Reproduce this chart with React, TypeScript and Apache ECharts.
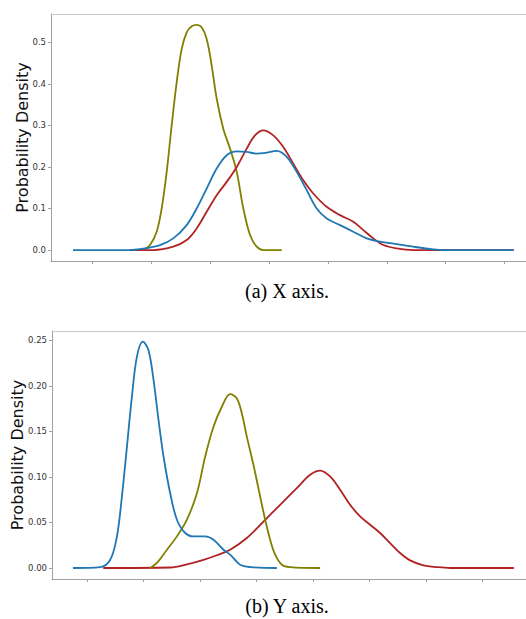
import React, { useEffect, useRef } from "react";
import * as echarts from "echarts";

// ---- (a) X axis ----
const topBlueX = [-0.328, 0.64, 0.81, 1.149, 1.375, 1.603, 1.772, 1.942, 2.112, 2.282, 2.452, 2.621, 2.791, 2.95, 3.131, 3.301, 3.47, 3.64, 3.81, 3.98, 4.206, 4.431, 4.659, 4.885, 5.168, 5.45, 5.79, 5.988, 7.154];
const topBlueY = [0, 0, 0.002, 0.012, 0.028, 0.06, 0.1, 0.148, 0.196, 0.228, 0.2376, 0.236, 0.232, 0.234, 0.2384, 0.224, 0.188, 0.144, 0.1, 0.076, 0.06, 0.044, 0.028, 0.02, 0.0144, 0.008, 0.0016, 0, 0];
const topRedX = [0.64, 1.036, 1.375, 1.603, 1.772, 1.942, 2.112, 2.282, 2.452, 2.621, 2.762, 2.903, 3.073, 3.242, 3.412, 3.582, 3.751, 3.979, 4.205, 4.431, 4.601, 4.77, 4.94, 5.168, 5.45, 7.154];
const topRedY = [0, 0, 0.008, 0.024, 0.052, 0.092, 0.132, 0.164, 0.2, 0.244, 0.276, 0.288, 0.276, 0.248, 0.208, 0.168, 0.136, 0.104, 0.084, 0.068, 0.048, 0.028, 0.012, 0.004, 0, 0];
const topOliveX = [0.866, 0.98, 1.093, 1.178, 1.263, 1.348, 1.433, 1.518, 1.603, 1.688, 1.772, 1.857, 1.942, 2.027, 2.112, 2.224, 2.338, 2.452, 2.564, 2.678, 2.791, 2.903, 3.216];
const topOliveY = [0, 0.012, 0.044, 0.1, 0.188, 0.3, 0.404, 0.484, 0.524, 0.5384, 0.5416, 0.536, 0.508, 0.444, 0.364, 0.292, 0.244, 0.188, 0.1, 0.036, 0.008, 0, 0];
const topYTicks = [0, 0.1, 0.2, 0.3, 0.4, 0.5];
const topXTicks = [0, 1, 2, 3, 4, 5, 6, 7];

// ---- (b) Y axis ----
const botBlueX = [-0.248, 0.235, 0.412, 0.531, 0.619, 0.708, 0.796, 0.885, 0.991, 1.09, 1.179, 1.267, 1.356, 1.474, 1.593, 1.74, 1.887, 2.094, 2.241, 2.418, 2.536, 2.713, 2.9, 3.363];
const botBlueY = [0, 0.001, 0.009, 0.0347, 0.0785, 0.133, 0.188, 0.232, 0.2485, 0.239, 0.2065, 0.1626, 0.1224, 0.082, 0.053, 0.0384, 0.0347, 0.0347, 0.031, 0.02, 0.0146, 0.0036, 0.001, 0];
const botOliveX = [1.12, 1.239, 1.416, 1.593, 1.77, 1.947, 2.094, 2.241, 2.389, 2.536, 2.655, 2.743, 2.832, 2.949, 3.067, 3.156, 3.244, 3.333, 3.451, 3.598, 4.129];
const botOliveY = [0, 0.0055, 0.02, 0.0347, 0.053, 0.082, 0.1224, 0.155, 0.177, 0.1908, 0.186, 0.1696, 0.144, 0.113, 0.0785, 0.053, 0.031, 0.0146, 0.0036, 0.001, 0];
const botRedX = [0.288, 1.474, 1.77, 2.064, 2.301, 2.536, 2.832, 3.126, 3.421, 3.717, 3.952, 4.129, 4.306, 4.483, 4.66, 4.837, 5.014, 5.191, 5.368, 5.545, 5.722, 5.958, 6.195, 6.43, 7.558];
const botRedY = [0, 0.0005, 0.004, 0.009, 0.014, 0.0201, 0.0329, 0.051, 0.0694, 0.0877, 0.1023, 0.107, 0.1005, 0.0859, 0.0694, 0.0566, 0.0475, 0.0384, 0.0274, 0.0164, 0.0083, 0.0029, 0.001, 0, 0];
const botYTicks = [0, 0.05, 0.1, 0.15, 0.2, 0.25];
const botXTicks = [0, 1, 2, 3, 4, 5, 6, 7];

const captions = ["(a) X axis.", "(b) Y axis."];
const yTitle = "Probability Density";

const BLUE = "#1f77b4";
const RED = "#b22222";
const OLIVE = "#808000";
const SPINE = "#a0a0a0";

const zip = (xs: number[], ys: number[]) => xs.map((x, i) => [x, ys[i]]);

export default function App() {
  const ref = useRef<HTMLDivElement>(null);
  useEffect(() => {
    if (!ref.current) return;
    const chart = echarts.init(ref.current, undefined, { renderer: "svg" });
    const tickLabel = { color: "#333", fontSize: 8.5, fontFamily: "DejaVu Sans" };
    const mkX = (grid: number, min: number, max: number, ticks: number[]) => [
      {
        type: "value",
        gridIndex: grid,
        min,
        max,
        position: "bottom",
        splitLine: { show: false },
        axisLine: { show: true, onZero: false, lineStyle: { color: SPINE, width: 1 } },
        axisTick: { show: true, length: 3, customValues: ticks, lineStyle: { color: SPINE } },
        axisLabel: { show: false },
      },
      {
        type: "value",
        gridIndex: grid,
        min,
        max,
        position: "top",
        splitLine: { show: false },
        axisLine: { show: true, onZero: false, lineStyle: { color: "#c8c8c8", width: 1 } },
        axisTick: { show: false },
        axisLabel: { show: false },
      },
    ];
    const mkY = (grid: number, min: number, max: number, ticks: number[], dec: number, gap: number) => ({
      type: "value",
      gridIndex: grid,
      min,
      max,
      name: yTitle,
      nameLocation: "middle",
      nameGap: gap,
      nameMoveOverlap: false,
      nameTextStyle: { fontSize: 16, fontFamily: "DejaVu Sans", color: "#111" },
      splitLine: { show: false },
      axisLine: { show: true, onZero: false, lineStyle: { color: SPINE, width: 1 } },
      axisTick: { show: true, length: 3, customValues: ticks, lineStyle: { color: SPINE } },
      axisLabel: {
        ...tickLabel,
        margin: 5,
        customValues: ticks,
        formatter: (v: number) => v.toFixed(dec),
      },
    });
    const line = (name: string, xAxisIndex: number, yAxisIndex: number, data: number[][], color: string, z: number) => ({
      name,
      type: "line",
      xAxisIndex,
      yAxisIndex,
      data,
      smooth: 0.35,
      showSymbol: false,
      symbol: "none",
      z,
      lineStyle: { color, width: 1.8 },
    });
    chart.setOption({
      animation: false,
      backgroundColor: "#ffffff",
      grid: [
        { left: 51, top: 14, width: 475, height: 247, outerBoundsMode: "none", containLabel: false },
        { left: 52, top: 331, width: 474, height: 248, outerBoundsMode: "none", containLabel: false },
      ],
      xAxis: [...mkX(0, -0.701, 7.363, topXTicks), ...mkX(1, -0.619, 7.775, botXTicks)],
      yAxis: [
        mkY(0, -0.0264, 0.568, topYTicks, 1, 21),
        mkY(1, -0.0121, 0.2602, botYTicks, 2, 27),
      ],
      series: [
        line("olive-a", 0, 0, zip(topOliveX, topOliveY), OLIVE, 2),
        line("red-a", 0, 0, zip(topRedX, topRedY), RED, 3),
        line("blue-a", 0, 0, zip(topBlueX, topBlueY), BLUE, 4),
        line("red-b", 2, 1, zip(botRedX, botRedY), RED, 2),
        line("olive-b", 2, 1, zip(botOliveX, botOliveY), OLIVE, 3),
        line("blue-b", 2, 1, zip(botBlueX, botBlueY), BLUE, 4),
      ],
      graphic: [
        {
          type: "text",
          x: 287,
          y: 291,
          style: {
            text: captions[0],
            font: "20px 'Liberation Serif', 'Times New Roman', serif",
            fill: "#000",
            textAlign: "center",
            textVerticalAlign: "middle",
          },
        },
        {
          type: "text",
          x: 287,
          y: 606,
          style: {
            text: captions[1],
            font: "20px 'Liberation Serif', 'Times New Roman', serif",
            fill: "#000",
            textAlign: "center",
            textVerticalAlign: "middle",
          },
        },
      ],
    });
    return () => chart.dispose();
  }, []);
  return (
    <div
      ref={ref}
      style={{ position: "fixed", left: 0, top: 0, width: 526, height: 619, background: "#fff" }}
    />
  );
}
